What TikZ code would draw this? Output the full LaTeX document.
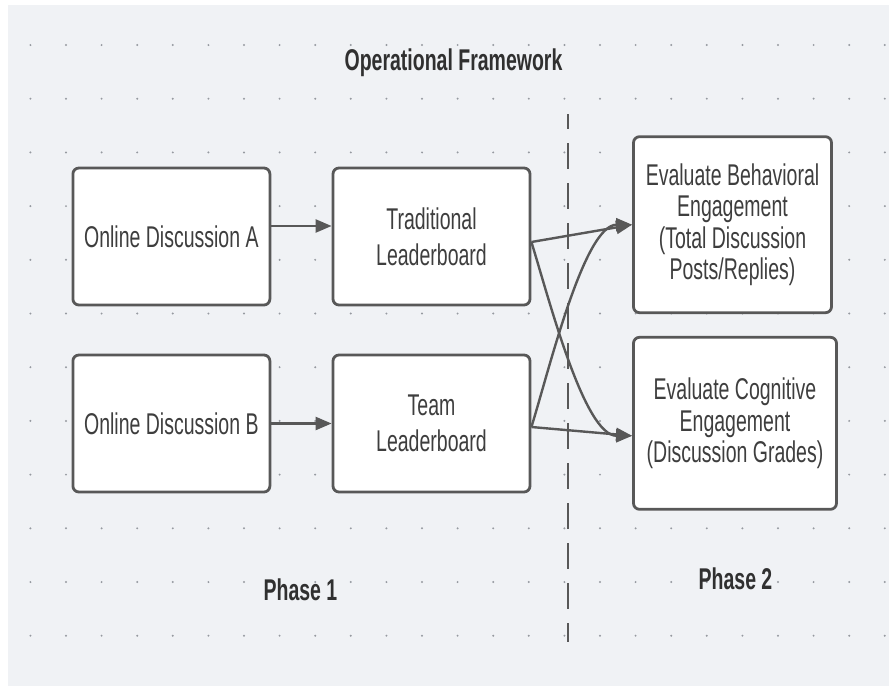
\documentclass[tikz,border=0pt]{standalone}
\usepackage{fontspec}
\newfontfamily\diagfont{Liberation Sans}[FakeStretch=0.65]
\usetikzlibrary{arrows.meta}

\definecolor{canvas}{RGB}{240,242,245}
\definecolor{griddot}{RGB}{150,154,160}
\definecolor{edge}{RGB}{88,88,88}
\definecolor{ink}{RGB}{62,62,62}
\definecolor{headink}{RGB}{48,48,48}

\begin{document}
\begin{tikzpicture}[x=1pt, y=-1pt, line join=round, >={Triangle[length=16pt,width=13pt]},
  box/.style={draw=edge, line width=2.8pt, fill=white, rounded corners=6pt, inner sep=0pt,
    align=center, text=ink, font=\diagfont\fontsize{30}{36}\selectfont},
  evalbox/.style={box, font=\diagfont\fontsize{30}{31.5}\selectfont},
  link/.style={draw=edge, line width=2.4pt, ->},
  heading/.style={anchor=base, text=headink, font=\diagfont\bfseries\fontsize{30}{36}\selectfont}]
  \useasboundingbox (0,0) rectangle (889,686);
  % Canvas with its dot grid.
  \fill[canvas] (8,5) rectangle (889,686);
  \foreach \i in {0,...,24}
    \foreach \j in {0,...,11}
      \fill[griddot] (30.4+35.6*\i, 45+53.7*\j) circle (1.1);
  % Divider between the two phases.
  \draw[edge, line width=2pt, dash pattern=on 26pt off 14pt, dash phase=11pt] (568,114) -- (568,642);

  % Phase 1 boxes.
  \node[box, minimum width=197pt, minimum height=137pt] (discA) at (171.4,236.5) {Online Discussion A};
  \node[box, minimum width=197pt, minimum height=137pt] (tradLB) at (431.5,236.5) {Traditional\\Leaderboard};
  \node[box, minimum width=197pt, minimum height=137pt] (discB) at (171.4,423.5) {Online Discussion B};
  \node[box, minimum width=197pt, minimum height=137pt] (teamLB) at (431.5,423.5) {Team\\Leaderboard};
  % Phase 2 boxes.
  \node[evalbox, minimum width=198pt, minimum height=176pt] (behav) at (732.5,224.7)
    {Evaluate Behavioral\\Engagement\\(Total Discussion\\Posts/Replies)};
  \node[evalbox, minimum width=203pt, minimum height=172pt] (cogn) at (735,423.3)
    {Evaluate Cognitive\\Engagement\\(Discussion Grades)};

  % Discussions feed their leaderboards.
  \draw[link] ([yshift=10.5pt]discA.east) -- ([yshift=10.5pt]tradLB.west);
  \draw[link] (discB.east) -- (teamLB.west);
  % Each leaderboard goes to both evaluations.
  \draw[link] ([yshift=-5.5pt]tradLB.east) -- (behav.west);
  \draw[link] ([yshift=-5.5pt]tradLB.east) .. controls +(18,58) and +(-48,0) .. ([yshift=-12.5pt]cogn.west);
  \draw[link] ([yshift=-3.5pt]teamLB.east) -- ([yshift=-12.5pt]cogn.west);
  \draw[link] ([yshift=-3.5pt]teamLB.east) .. controls +(18,-58) and +(-48,0) .. (behav.west);

  % Headings.
  \node[heading] (title) at (453.5,70) {Operational Framework};
  \node[heading] (phaseOne) at (300.5,600) {Phase 1};
  \node[heading] (phaseTwo) at (735.5,589) {Phase 2};
\end{tikzpicture}
\end{document}
